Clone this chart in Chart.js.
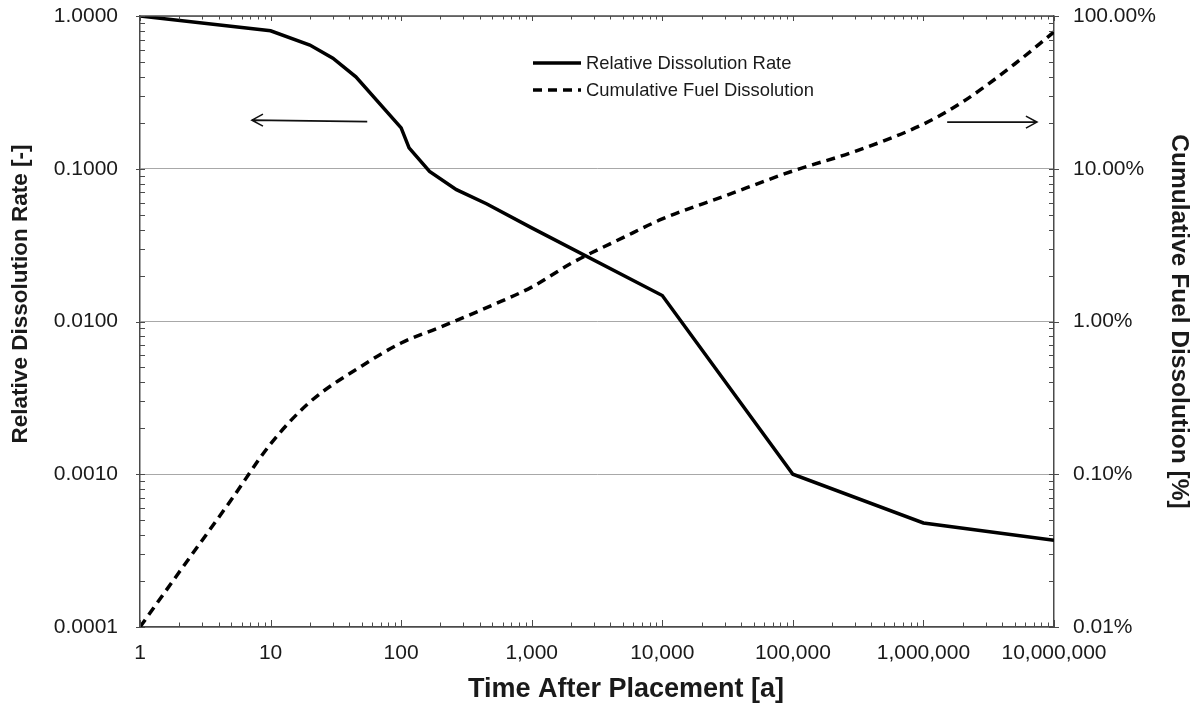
<!DOCTYPE html>
<html>
<head>
<meta charset="utf-8">
<script src="https://cdn.jsdelivr.net/npm/chart.js@4.4.1/dist/chart.umd.min.js"></script>
<style>
  html, body { margin: 0; padding: 0; background: #ffffff; }
  #wrap { width: 1197px; height: 710px; position: relative; }
</style>
</head>
<body>
<div id="wrap"><canvas id="c" width="1197" height="710"></canvas></div>
<script>
// Relative dissolution rate (left axis, dimensionless)
const rateTimes  = [1, 10, 20, 30, 45, 100, 115, 165, 265, 450, 1000, 10000, 100000, 1000000, 10000000];
const rateValues = [1.0, 0.80, 0.645, 0.53, 0.40, 0.185, 0.137, 0.096, 0.073, 0.059, 0.041, 0.0148, 0.0010, 0.00048, 0.00037];

// Cumulative fuel dissolution (right axis, percent)
const cumTimes  = [1, 2, 5, 10, 20, 50, 100, 200, 500, 1000, 2000, 5000, 10000, 30000, 100000, 300000, 1000000, 2000000, 5000000, 10000000];
const cumValues = [0.01, 0.0229, 0.068, 0.158, 0.297, 0.512, 0.723, 0.92, 1.28, 1.68, 2.40, 3.54, 4.69, 6.63, 9.67, 13.0, 19.6, 27.4, 48.5, 78.6];

// Labelled decades on each axis
const timeTicks = [1, 10, 100, 1000, 10000, 100000, 1000000, 10000000];
const rateTicks = [0.0001, 0.001, 0.01, 0.1, 1];
const cumTicks  = [0.01, 0.1, 1, 10, 100];

const seriesNames = ['Relative Dissolution Rate', 'Cumulative Fuel Dissolution'];
const xTitle  = 'Time After Placement [a]';
const yTitle  = 'Relative Dissolution Rate [-]';
const y2Title = 'Cumulative Fuel Dissolution [%]';

// Direction arrows: [fromTime, toTime, level, axis]
const arrowLeft  = [55, 7.2, 0.208, 'y'];
const arrowRight = [1.52e6, 7.4e6, 20.2, 'y2'];

const FONT = '"Liberation Sans", Arial, sans-serif';
const AXIS_COLOR = '#4a4a4a';
const TEXT_COLOR = '#1a1a1a';

function decades(values) {
  return function (scale) { scale.ticks = values.map(v => ({ value: v })); };
}

// Small inward tick marks on all four sides, plus the top frame line
const frameTicks = {
  id: 'frameTicks',
  afterDatasetsDraw(chart) {
    const { ctx, chartArea: a, scales } = chart;
    ctx.save();
    ctx.strokeStyle = AXIS_COLOR;
    ctx.lineWidth = 1.5;
    ctx.beginPath();
    ctx.moveTo(a.left, a.top);
    ctx.lineTo(a.right, a.top);
    ctx.stroke();
    ctx.lineWidth = 1;

    const steps = (lo, hi) => {
      const out = [];
      for (let e = Math.round(Math.log10(lo)); e < Math.round(Math.log10(hi)); e++) {
        for (let k = 1; k < 10; k++) out.push({ v: k * Math.pow(10, e), major: k === 1 });
      }
      out.push({ v: hi, major: true });
      return out;
    };

    ctx.beginPath();
    steps(1, 1e7).forEach(t => {
      const px = Math.round(scales.x.getPixelForValue(t.v)) + 0.5;
      const len = t.major ? 7 : 4.5;
      ctx.moveTo(px, a.bottom); ctx.lineTo(px, a.bottom - len);
      ctx.moveTo(px, a.top); ctx.lineTo(px, a.top + (t.major ? 5 : 3.5));
    });
    steps(1e-4, 1).forEach(t => {
      const py = Math.round(scales.y.getPixelForValue(t.v)) + 0.5;
      ctx.moveTo(a.left + (t.major ? -4 : 0), py); ctx.lineTo(a.left + 5, py);
    });
    steps(0.01, 100).forEach(t => {
      const py = Math.round(scales.y2.getPixelForValue(t.v)) + 0.5;
      ctx.moveTo(a.right + (t.major ? 5 : 0), py); ctx.lineTo(a.right - 5, py);
    });
    ctx.stroke();
    ctx.restore();
  }
};

// Legend, arrow annotations and the two hand-placed axis titles
const notes = {
  id: 'notes',
  afterDraw(chart) {
    const { ctx, chartArea: a, scales } = chart;
    ctx.save();

    // legend
    const lx = a.left + 393, rows = [a.top + 47, a.top + 74];
    chart.data.datasets.forEach((ds, i) => {
      ctx.strokeStyle = ds.borderColor;
      ctx.lineWidth = ds.borderWidth;
      ctx.setLineDash(ds.borderDash || []);
      ctx.beginPath();
      ctx.moveTo(lx, rows[i]);
      ctx.lineTo(lx + 48, rows[i]);
      ctx.stroke();
      ctx.setLineDash([]);
      ctx.fillStyle = TEXT_COLOR;
      ctx.font = '18.4px ' + FONT;
      ctx.textAlign = 'left';
      ctx.textBaseline = 'middle';
      ctx.fillText(ds.label, lx + 53, rows[i] + 1);
    });

    // arrows
    const drawArrow = ([t0, t1, lvl, axis]) => {
      const x0 = scales.x.getPixelForValue(t0);
      const x1 = scales.x.getPixelForValue(t1);
      const yy = scales[axis].getPixelForValue(lvl);
      const dir = Math.sign(x1 - x0);
      ctx.strokeStyle = '#111';
      ctx.lineWidth = 1.6;
      ctx.beginPath();
      ctx.moveTo(x0, yy + (dir < 0 ? 1.5 : 0));
      ctx.lineTo(x1, yy);
      ctx.moveTo(x1 - dir * 11, yy - 6);
      ctx.lineTo(x1, yy);
      ctx.lineTo(x1 - dir * 11, yy + 6);
      ctx.stroke();
    };
    drawArrow(arrowLeft);
    drawArrow(arrowRight);

    // axis titles
    ctx.fillStyle = TEXT_COLOR;
    ctx.textAlign = 'center';
    ctx.textBaseline = 'middle';
    ctx.font = 'bold 27px ' + FONT;
    ctx.fillText(xTitle, a.left + 486, 690);
    ctx.save();
    ctx.translate(21, a.top + 278);
    ctx.rotate(-Math.PI / 2);
    ctx.font = 'bold 22.5px ' + FONT;
    ctx.fillText(yTitle, 0, 0);
    ctx.restore();

    ctx.restore();
  }
};

const tickFont = { family: FONT, size: 21 };

function noOverflow(s) {
  s.paddingTop = 0; s.paddingBottom = 0; s.paddingLeft = 0; s.paddingRight = 0;
}

new Chart(document.getElementById('c'), {
  type: 'line',
  data: {
    datasets: [
      {
        label: seriesNames[0],
        data: rateTimes.map((t, i) => ({ x: t, y: rateValues[i] })),
        yAxisID: 'y',
        borderColor: '#000000',
        borderWidth: 3.5,
        pointRadius: 0,
        tension: 0,
        fill: false
      },
      {
        label: seriesNames[1],
        data: cumTimes.map((t, i) => ({ x: t, y: cumValues[i] })),
        yAxisID: 'y2',
        borderColor: '#000000',
        borderWidth: 3.5,
        borderDash: [9, 6],
        pointRadius: 0,
        cubicInterpolationMode: 'monotone',
        fill: false
      }
    ]
  },
  options: {
    responsive: false,
    animation: false,
    devicePixelRatio: 1,
    layout: { padding: { top: 16, left: 0, right: 0, bottom: 0 } },
    plugins: { legend: { display: false }, tooltip: { enabled: false } },
    scales: {
      x: {
        type: 'logarithmic',
        min: 1, max: 1e7,
        afterBuildTicks: decades(timeTicks),
        afterFit(s) { s.height = 83; noOverflow(s); },
        grid: { display: false, drawTicks: false },
        border: { display: true, color: AXIS_COLOR, width: 1.5 },
        ticks: {
          autoSkip: false, maxRotation: 0, padding: 14,
          color: TEXT_COLOR, font: tickFont,
          callback: v => Number(v).toLocaleString('en-US')
        },
        title: { display: false }
      },
      y: {
        type: 'logarithmic',
        position: 'left',
        min: 0.0001, max: 1,
        afterBuildTicks: decades(rateTicks),
        afterFit(s) { s.width = 140; noOverflow(s); },
        grid: { display: true, drawTicks: false, color: '#a8a8a8', lineWidth: 1 },
        border: { display: true, color: AXIS_COLOR, width: 1.5 },
        ticks: {
          autoSkip: false, padding: 22, color: TEXT_COLOR, font: tickFont,
          callback: v => Number(v).toFixed(4)
        },
        title: { display: false }
      },
      y2: {
        type: 'logarithmic',
        position: 'right',
        min: 0.01, max: 100,
        afterBuildTicks: decades(cumTicks),
        afterFit(s) { s.width = 143; noOverflow(s); },
        grid: { display: false, drawTicks: false },
        border: { display: true, color: AXIS_COLOR, width: 1.5 },
        ticks: {
          autoSkip: false, padding: 19, color: TEXT_COLOR, font: tickFont,
          callback: v => Number(v).toFixed(2) + '%'
        },
        title: { display: true, text: y2Title, color: TEXT_COLOR,
                 font: { family: FONT, size: 24.5, weight: 'bold' }, padding: { top: 4, bottom: 0 } }
      }
    }
  },
  plugins: [frameTicks, notes]
});
</script>
</body>
</html>
